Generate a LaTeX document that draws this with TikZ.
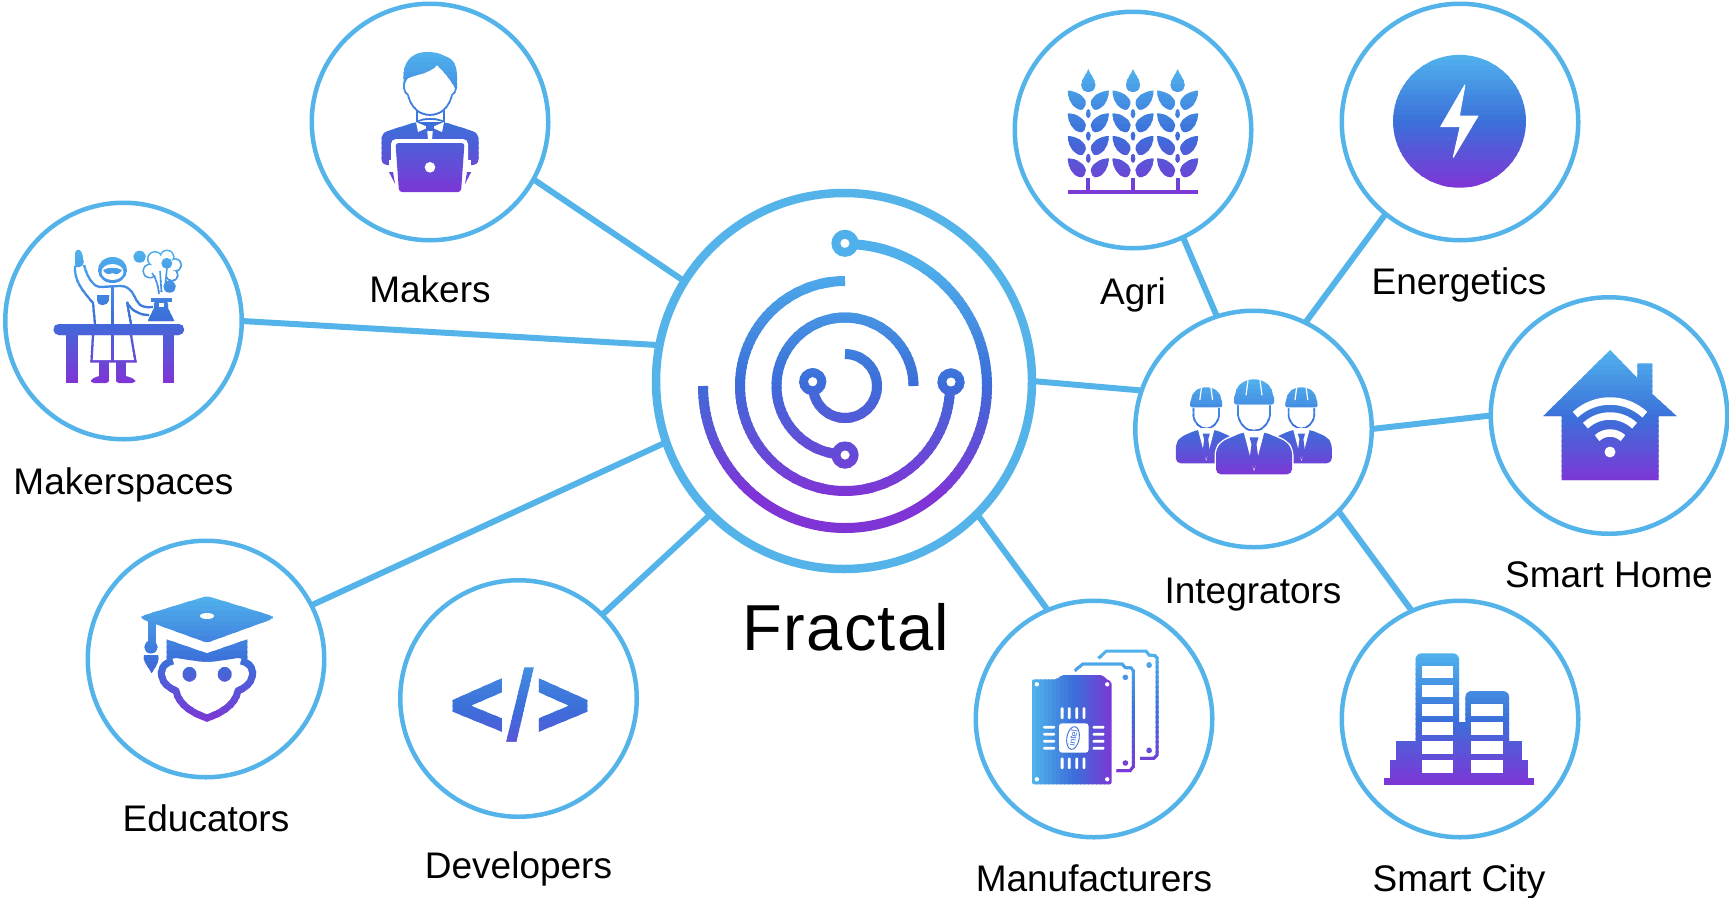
\documentclass[tikz,border=0pt]{standalone}
\usepackage{fontspec}
\setmainfont{Liberation Sans}
\newfontfamily\fractalfont[LetterSpace=2.05]{Liberation Sans}
\definecolor{linkblue}{HTML}{54B4EA}
\definecolor{gtop}{HTML}{4FB0EC}
\definecolor{gmid}{HTML}{3B6FD9}
\definecolor{gbot}{HTML}{7F35D6}
\colorlet{cur}{gmid}
\tikzset{
  hub/.style={circle,draw=linkblue,line width=4.5pt,fill=white,minimum size=236.5pt,inner sep=0pt,outer sep=0pt},
  core/.style={hub,line width=8.5pt,minimum size=376pt},
  linkline/.style={draw=linkblue,line width=6pt},
  lbl/.style={anchor=base,inner sep=0pt,text=black,font=\fontsize{37}{40}\selectfont},
  gf/.style={fill=cur,draw=none},
  gs/.style={draw=cur,fill=none},
  wf/.style={fill=white,draw=none},
  ws/.style={draw=white,fill=none},
}
% vertical gradient: #1 top, #2 bottom, #3 what to draw
\newcommand\setcur[1]{%
  \ifdim #1pt<50pt
    \pgfmathsetmacro\gpc{2*#1}\colorlet{cur}{gmid!\gpc!gtop}%
  \else
    \pgfmathsetmacro\gpc{2*#1-100}\colorlet{cur}{gbot!\gpc!gmid}%
  \fi}
\newcommand\gradV[3]{%
  \pgfmathtruncatemacro\gnb{(#2-#1)/5}%
  \foreach \ii in {0,...,\gnb}{%
    \pgfmathsetmacro\gt{\ii/\gnb*100}%
    \setcur{\gt}%
    \pgfmathsetmacro\ya{\ii==0 ? #1-80 : #1+\ii*5}%
    \pgfmathsetmacro\yb{\ii==\gnb ? #2+80 : #1+\ii*5+6}%
    \begin{scope}\clip (0,\ya) rectangle (1729,\yb); #3 \end{scope}%
  }}
\newcommand\gradH[3]{%
  \pgfmathtruncatemacro\gnb{(#2-#1)/4}%
  \foreach \ii in {0,...,\gnb}{%
    \pgfmathsetmacro\gt{\ii/\gnb*100}%
    \setcur{\gt}%
    \pgfmathsetmacro\xa{\ii==0 ? #1-40 : #1+\ii*4}%
    \pgfmathsetmacro\xb{\ii==\gnb ? #2+40 : #1+\ii*4+5}%
    \begin{scope}\clip (\xa,0) rectangle (\xb,897); #3 \end{scope}%
  }}
\newcommand\ringarc[5]{\draw[gs,line width=10pt] (#1,#2) ++(#4:#3) arc[start angle=#4,end angle=#5,radius=#3];}
\newcommand\ringdot[2]{\draw[gs,line width=9pt] (#1,#2) circle[radius=9];}
\newcommand\holedot[2]{\fill[white] (#1,#2) circle[radius=4.5];}
\newcommand\leafrow[2]{% cx, y0
  \fill[gf] (#1-20.5,#2) .. controls (#1-12,#2) and (#1-3,#2+6) .. (#1-2.5,#2+12) .. controls (#1-3,#2+16) and (#1-5,#2+19) .. (#1-7,#2+19) .. controls (#1-14,#2+19) and (#1-20.5,#2+10) .. (#1-20.5,#2) -- cycle;
  \fill[gf] (#1+20.5,#2) .. controls (#1+12,#2) and (#1+3,#2+6) .. (#1+2.5,#2+12) .. controls (#1+3,#2+16) and (#1+5,#2+19) .. (#1+7,#2+19) .. controls (#1+14,#2+19) and (#1+20.5,#2+10) .. (#1+20.5,#2) -- cycle;}
\newcommand\wheat[1]{%
  \fill[gf] (#1,69) .. controls (#1+2,75) and (#1+7,79) .. (#1+7,85) .. controls (#1+7,90) and (#1+3,92) .. (#1,92) .. controls (#1-3,92) and (#1-7,90) .. (#1-7,85) .. controls (#1-7,79) and (#1-2,75) .. (#1,69) -- cycle;
  \leafrow{#1}{90.7}\leafrow{#1}{113.3}\leafrow{#1}{136}\leafrow{#1}{158.3}
  \fill[gf] (#1,113.7) ellipse[x radius=2.3,y radius=4.5];
  \fill[gf] (#1,136) ellipse[x radius=2.3,y radius=4.5];
  \fill[gf] (#1,158.4) ellipse[x radius=2.3,y radius=4.5];
  \fill[gf] (#1-1.9,178) rectangle (#1+1.9,191);}
\newcommand\worker[3]{%
  \begin{scope}[shift={(#1,#2)},scale=#3]
    \fill[gf] (-19,18) .. controls (-19,6) and (-10,0) .. (0,0) .. controls (10,0) and (19,6) .. (19,18) -- cycle;
    \fill[gf,rounded corners=2pt] (-20,16) rectangle (20,25);
    \draw[ws,line width=1.2pt] (-6,1) -- (-8,16) (6,1) -- (8,16);
    \draw[gs,line width=1.7pt] (-16,26) -- (-16,36) .. controls (-14,46) and (-7,51.5) .. (0,51.5) .. controls (7,51.5) and (14,46) .. (16,36) -- (16,26);
    \fill[white,draw=white,line width=3pt,rounded corners=6pt] (-38,95) -- (-38,70) -- (-32,62) -- (-11,53) -- (11,53) -- (32,62) -- (38,70) -- (38,95) -- cycle;
    \fill[gf,rounded corners=5pt] (-38,95) -- (-38,70) -- (-32,62) -- (-11,53) -- (11,53) -- (32,62) -- (38,70) -- (38,95) -- cycle;
    \fill[wf] (-10.5,52) -- (0,92) -- (10.5,52) -- cycle;
    \fill[gf] (-4.5,58) -- (4.5,58) -- (2.5,65) -- (4.5,80) -- (0,90) -- (-4.5,80) -- (-2.5,65) -- cycle;
  \end{scope}}
\begin{document}
\begin{tikzpicture}[x=1pt,y=-1pt]
\useasboundingbox (0,0) rectangle (1729,897);
% hubs
\node[core] (fractal) at (844,381) {};
\node[hub] (makers) at (430,122) {};
\node[hub] (makerspaces) at (123.5,321) {};
\node[hub] (educators) at (206,659) {};
\node[hub] (developers) at (518.5,698.5) {};
\node[hub] (agri) at (1133,130) {};
\node[hub] (energetics) at (1460,122) {};
\node[hub] (integrators) at (1253.5,429) {};
\node[hub] (smarthome) at (1609,415.5) {};
\node[hub] (manufacturers) at (1094,719) {};
\node[hub] (smartcity) at (1460,719) {};
% connectors
\draw[linkline] (makers.-29) -- (fractal.148.1);
\draw[linkline] (makerspaces.0) -- (fractal.169.2);
\draw[linkline] (educators.27.8) -- (fractal.199.4);
\draw[linkline] (developers.45.2) -- (fractal.225.2);
\draw[linkline] (manufacturers.113.6) -- (fractal.-45.3);
\draw[linkline] (integrators.161.4) -- (fractal.0.3);
\draw[linkline] (agri.-65.2) -- (integrators.108.6);
\draw[linkline] (energetics.231.6) -- (integrators.64.5);
\draw[linkline] (integrators.0.3) -- (smarthome.180);
\draw[linkline] (integrators.-44.5) -- (smartcity.114.8);
% labels
\node[lbl] (lmakers) at (430,302) {Makers};
\node[lbl] (lmakerspaces) at (123.5,494) {Makerspaces};
\node[lbl] (leducators) at (206,831) {Educators};
\node[lbl] (ldevelopers) at (518.5,878) {Developers};
\node[lbl] (lagri) at (1133,304) {Agri};
\node[lbl] (lenergetics) at (1459,294) {Energetics};
\node[lbl] (lintegrators) at (1253,603) {Integrators};
\node[lbl] (lsmarthome) at (1609,587) {Smart Home};
\node[lbl] (lmanufacturers) at (1094,891) {Manufacturers};
\node[lbl] (lsmartcity) at (1459,891) {Smart City};
\node[lbl,font={\fractalfont\fontsize{65}{70}\selectfont}] (lfractal) at (846,650.7) {Fractal};
% Fractal logo
\gradV{262}{492}{
  \ringarc{845}{386}{142}{180}{-90}
  \ringarc{845}{386}{105}{270}{0}
  \ringarc{845}{386}{68.5}{0}{-270}
  \ringarc{845}{386}{32}{-90}{180}
  \ringdot{845}{243.3}\ringdot{951}{382}\ringdot{845}{455}\ringdot{812.7}{381.7}
}
\holedot{845}{243.3}\holedot{951}{382}\holedot{845}{455}\holedot{812.7}{381.7}
% Makers icon
\gradV{52}{192}{
  \fill[gf] (404,84) .. controls (401,64) and (410,52) .. (427,52) .. controls (440,52) and (444,56) .. (449,58) .. controls (458,62) and (458,78) .. (456,90) .. controls (452,82) and (446,74) .. (437,65) .. controls (432,72) and (420,74) .. (408,78) -- cycle;
  \draw[gs,line width=1.7pt] (406,79) .. controls (402,84) and (404,93) .. (408,95) .. controls (411,108) and (420,115) .. (430,115) .. controls (440,115) and (449,108) .. (452,95) .. controls (456,93) and (458,84) .. (455,79);
  \draw[gs,line width=1.7pt] (417,110) -- (417,122) .. controls (422,118) and (438,118) .. (444,122) -- (444,110);
  \fill[gf,rounded corners=6pt] (381.5,165) -- (381.5,133) -- (416,122) -- (444,122) -- (478.5,133) -- (478.5,165) -- cycle;
  \fill[wf] (416,122) -- (430,128) -- (444,122) -- (442,132) -- (433,128) -- (432,140) -- (428,140) -- (427,128) -- (418,132) -- cycle;
  \fill[gf] (426,125.5) rectangle (434,131);
  \fill[wf] (389,160) rectangle (471,172);
  \fill[wf,rounded corners=5pt] (391,139) rectangle (468,195);
  \fill[gf] (389,172) -- (393,172) -- (395,184) -- cycle;
  \fill[gf] (471,172) -- (467,172) -- (465,184) -- cycle;
  \fill[gf,rounded corners=3pt] (395.5,143) -- (464.5,143) -- (461,192) -- (399,192) -- cycle;
  \fill[wf] (430,167.3) circle[radius=5.3];
}
% Makerspaces icon
\gradV{250}{383}{
  \fill[gf,rounded corners=1.5pt] (75,254) .. controls (76,249) and (80,249) .. (82,253) -- (84,264) -- (78,268) -- (75,266) -- cycle;
  \draw[gs,line width=2.2pt] (75,266) .. controls (74,282) and (84,292) .. (93,303) -- (95,324);
  \draw[gs,line width=2.2pt] (84,265) .. controls (88,280) and (95,288) .. (102,287) -- (120,286) .. controls (132,286) and (134,297) .. (137,301) .. controls (140,307) and (146,308) .. (153,307);
  \draw[gs,line width=2.2pt] (127,302) -- (131,324);
  \draw[gs,line width=2.2pt] (127,302) .. controls (130,309) and (138,315) .. (149,315);
  \draw[gs,line width=2.5pt] (112.5,287) -- (112.5,362);
  \draw[gs,line width=2.2pt] (93,335) -- (91.5,361.5) -- (135.5,361.5) -- (131,335);
  \fill[gf] (97,295) -- (109,295) -- (109,300) .. controls (109,303) and (106,305) .. (103,305) .. controls (99,305) and (97,303) .. (97,300) -- cycle;
  \fill[gf] (112.5,270) ellipse[x radius=14.5,y radius=13];
  \fill[wf] (112.5,272) ellipse[x radius=11,y radius=8];
  \fill[gf] (103,270) .. controls (108,267) and (117,267) .. (122,270) .. controls (120,274) and (116,275) .. (112.5,273) .. controls (109,275) and (105,274) .. (103,270) -- cycle;
  \fill[gf,rounded corners=5pt] (53.6,324) rectangle (184,335);
  \fill[gf] (66,334) rectangle (77.5,383);
  \fill[gf] (162.5,334) rectangle (174,383);
  \fill[gf] (99,362) rectangle (109,378);
  \fill[gf] (116,362) rectangle (126,378);
  \fill[gf,rounded corners=3pt] (91,383) -- (91,379) -- (99,376) -- (109,376) -- (109,383) -- cycle;
  \fill[gf,rounded corners=3pt] (135,383) -- (135,379) -- (126,376) -- (116,376) -- (116,383) -- cycle;
  \fill[gf] (151,298) rectangle (171.5,302);
  \fill[gf,rounded corners=1pt] (154,302) -- (168,302) -- (168,308) -- (174,320) -- (174,321) -- (148,321) -- (148,320) -- (154,308) -- cycle;
  \fill[wf] (159,303) rectangle (163.5,307);
  \fill[gf] (139.6,256.7) circle[radius=6];
  \fill[gf] (150,271) circle[radius=7.5] (155,259) circle[radius=8] (167,257) circle[radius=7.5] (175,265) circle[radius=7] (172,275) circle[radius=6.5];
  \fill[wf] (150,271) circle[radius=5.9] (155,259) circle[radius=6.4] (167,257) circle[radius=5.9] (175,265) circle[radius=5.4] (172,275) circle[radius=4.9] (160,268) circle[radius=9] (166,270) circle[radius=7];
  \fill[gf] (166.8,263.3) circle[radius=5.5];
  \fill[gf] (169.6,286.7) circle[radius=6];
  \draw[gs,line width=1.6pt] (159,294) .. controls (158,285) and (156,278) .. (152,273);
  \draw[gs,line width=1.6pt] (161.5,292) -- (160,271);
  \draw[gs,line width=1.6pt] (165,288) -- (167,268);
}
% Educators icon
\gradV{596}{722}{
  \draw[gs,line width=7pt] (173,661) .. controls (163,663) and (160,670) .. (162,677) .. controls (163,684) and (170,688) .. (176,691) .. controls (179,706) and (195,714) .. (207,718) .. controls (219,714) and (235,706) .. (238,691) .. controls (244,688) and (251,684) .. (252,677) .. controls (254,670) and (251,663) .. (241,661);
  \fill[gf,rounded corners=3pt] (207,596) -- (272.5,616) -- (272.5,619) -- (207,642.7) -- (141.5,619) -- (141.5,616) -- cycle;
  \fill[wf] (207,616) ellipse[x radius=7,y radius=3];
  \fill[gf] (147.5,620) -- (156,620) -- (156,642) -- (147.5,642) -- cycle;
  \fill[gf] (151,647) circle[radius=6.5];
  \fill[gf] (144,655) -- (158,655) .. controls (160,660) and (157,665) .. (151.6,673) .. controls (147,665) and (142,660) .. (144,655) -- cycle;
  \fill[gf] (166.5,639.3) -- (207,653.3) -- (247.3,639.3) -- (247.3,660) -- (238,658) .. controls (225,660) and (215,661.7) .. (207,661.7) .. controls (199,661.7) and (189,660) .. (176,658) -- (166.5,660) -- cycle;
  \fill[gf] (189.5,674.3) ellipse[x radius=7,y radius=7.3];
  \fill[gf] (224.7,674.3) ellipse[x radius=7,y radius=7.3];
}
% Developers icon
\gradV{620}{790}{
  \fill[gf] (501.8,678.3) -- (452.7,700) -- (452.7,711.7) -- (501.8,731.7) -- (501.8,718.3) -- (470.9,705.7) -- (501.8,692.3) -- cycle;
  \fill[gf] (538.9,678.3) -- (587.3,700) -- (587.3,711.7) -- (538.9,731.7) -- (538.9,718.3) -- (569,705.7) -- (538.9,692.3) -- cycle;
  \fill[gf] (524.4,667.3) -- (533.8,667.3) -- (516.4,741.7) -- (506.2,741.7) -- cycle;
}
% Agri icon
\gradV{69}{194}{
  \wheat{1088.3}\wheat{1133}\wheat{1177.6}
  \fill[gf] (1067.9,190) rectangle (1198,194.3);
}
% Energetics icon
\gradV{55}{188}{
  \fill[gf] (1459.5,121.3) circle[radius=66.4];
}
\fill[white,draw=white,line width=1pt,line join=round] (1464.9,85) -- (1440.7,126.7) -- (1460.2,126.7) -- (1453.3,157.3) -- (1477.9,116) -- (1459.3,116) -- cycle;
% Integrators icon
\gradV{379}{475}{
  \worker{1206.2}{387.3}{0.8}
  \worker{1301.4}{387.3}{0.8}
  \worker{1254}{379.3}{1}
}
% Smart Home icon
\gradV{350}{480}{
  \fill[gf] (1610.1,350) -- (1637.3,378) -- (1637.3,363.3) -- (1652.4,363.3) -- (1652.4,394) -- (1676.5,416) -- (1658.6,416) -- (1658.6,480) -- (1561.5,480) -- (1561.5,416) -- (1543.3,416) -- cycle;
}
\draw[white,line width=7.5pt] (1610,452) ++(227:51) arc[start angle=227,end angle=313,radius=51];
\draw[white,line width=7.5pt] (1610,452) ++(227:36) arc[start angle=227,end angle=313,radius=36];
\draw[white,line width=7.5pt] (1610,452) ++(227:19) arc[start angle=227,end angle=313,radius=19];
\fill[white] (1610,452) circle[radius=5.5];
% Smart City icon
\gradV{653}{785}{
  \fill[gf] (1384,778.3) rectangle (1533.5,785);
  \fill[gf] (1390,760) rectangle (1527.5,779);
  \fill[gf] (1396.3,741) rectangle (1521.6,761);
  \fill[gf,rounded corners=6pt] (1415.6,760) -- (1415.6,653.3) -- (1459,653.3) -- (1459,760) -- cycle;
  \fill[gf,rounded corners=6pt] (1465.4,760) -- (1465.4,691) -- (1509,691) -- (1509,760) -- cycle;
  \fill[gf] (1458,722.3) rectangle (1466,760);
}
\foreach \wy in {665.7,684.7,703.7,722.3,741,760}{\fill[white] (1421.5,\wy) rectangle (1453.2,\wy+12.5);}
\foreach \wy in {703.7,722.3,741,760}{\fill[white] (1471.4,\wy) rectangle (1503,\wy+12.5);}
% Manufacturers icon
\gradV{651}{771}{
  \draw[gs,line width=3pt] (1098.5,658.3) -- (1106.4,651) -- (1146,651) -- (1149.1,655) -- (1155,655.5) -- (1157,658) -- (1157,755) -- (1153.9,758.3) -- (1140,758.3);
  \fill[gf] (1149.1,665) circle[radius=2.8] (1149.1,750.3) circle[radius=2.8];
  \draw[gs,line width=3pt] (1074.8,670.7) -- (1082.7,664) -- (1122.2,664) -- (1125.4,667.7) -- (1131,668) -- (1133.3,670.7) -- (1133.3,766.7) -- (1130,770.7) -- (1116.3,770.7);
  \fill[gf] (1125.4,677.3) circle[radius=2.8] (1125.4,763) circle[radius=2.8];
}
\gradH{1032}{1112}{
  \fill[gf,rounded corners=2pt] (1032,679.3) -- (1057,679.3) -- (1061.7,675) -- (1102.5,675) -- (1106,679) -- (1111.6,681.7) -- (1111.6,784.3) -- (1032,784.3) -- cycle;
}
\foreach \hx/\hy in {1036.8/684.3,1107.2/684.3,1036.8/779.3,1107.2/779.3}{\fill[white] (\hx,\hy) circle[radius=2.2];}
\fill[white,rounded corners=3pt] (1059,723.3) rectangle (1088.6,752.7);
\foreach \px in {1062.1,1069.2,1076.8,1083.9}{
  \fill[white,rounded corners=1pt] (\px-1.4,707.3) rectangle (\px+1.4,719);
  \fill[white,rounded corners=1pt] (\px-1.4,757.7) rectangle (\px+1.4,769);}
\foreach \py in {727.3,734.3,741.3,748.3}{
  \fill[white,rounded corners=1pt] (1043.2,\py-1.4) rectangle (1055,\py+1.4);
  \fill[white,rounded corners=1pt] (1092.6,\py-1.4) rectangle (1104.4,\py+1.4);}
\draw[gmid,line width=0.9pt,rotate around={-10:(1073,738)}] (1073,738) ellipse[x radius=6.2,y radius=11.5];
\node[rotate=80,inner sep=0pt,text=gmid,font=\fontsize{9}{10}\selectfont] (intel) at (1073,738) {intel};
\end{tikzpicture}
\end{document}
